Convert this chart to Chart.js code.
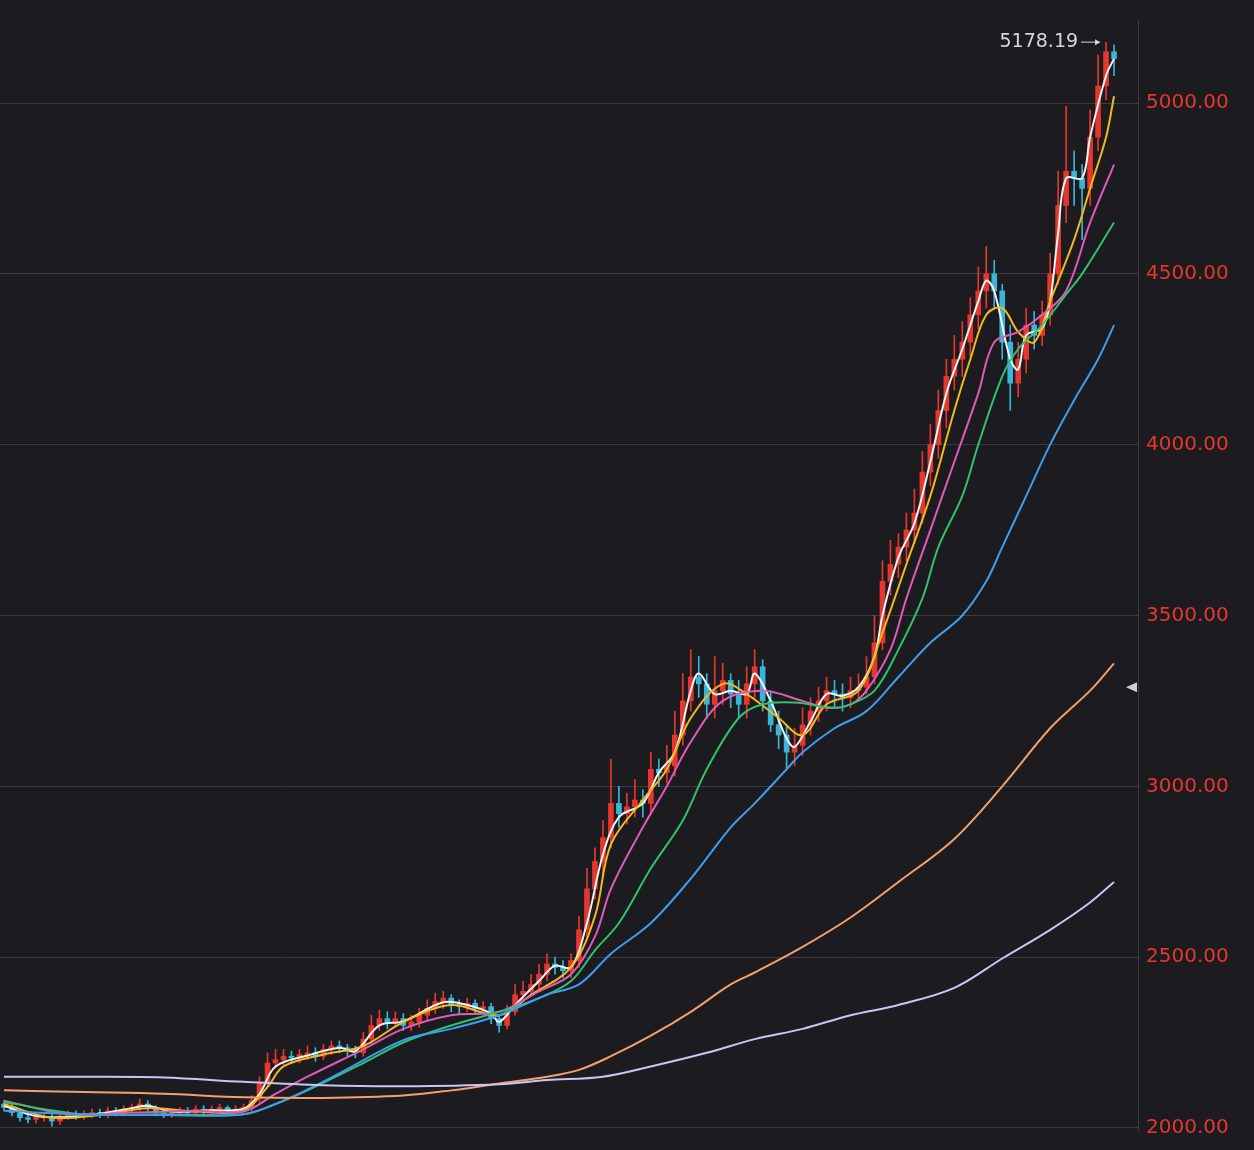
<!DOCTYPE html>
<html>
<head>
<meta charset="utf-8">
<script src="https://cdn.jsdelivr.net/npm/chart.js@4"></script>
<style>
  html, body { margin: 0; padding: 0; background: #1b1b20; }
  #wrap { width: 1254px; height: 1150px; }
</style>
</head>
<body>
<div id="wrap"><canvas id="c"></canvas></div>
<script>
// ── Data ──
const opens = [
  2070,2060,2045,2030,2025, 2030,2030,2020,2035,2040, 2035,2040,2045,2040,2050, 2045,2055,2060,2070,2060,
  2045,2040,2045,2050,2045, 2055,2050,2055,2060,2050, 2055,2060,2085,2130,2190, 2200,2210,2205,2215,2220,
  2210,2230,2240,2235,2225, 2220,2260,2300,2320,2310, 2320,2300,2310,2330,2350, 2370,2380,2360,2355,2365,
  2350,2355,2320,2300,2340, 2390,2400,2420,2450,2480, 2470,2460,2490,2580,2700, 2780,2850,2950,2920,2940,
  2960,2950,3050,3040,3060, 3150,3250,3320,3300,3240, 3280,3310,3270,3240,3300, 3350,3250,3180,3150,3100,
  3120,3180,3220,3250,3280, 3270,3260,3280,3290,3320, 3420,3600,3650,3700,3750, 3800,3920,4000,4100,4200,
  4250,4300,4380,4450,4500, 4450,4300,4180,4250,4350, 4320,4380,4500,4700,4800, 4780,4750,4900,5050,5150
];
const highs = [
  2080,2070,2055,2040,2040, 2045,2040,2045,2050,2050, 2050,2055,2055,2060,2060, 2065,2070,2085,2080,2065,
  2055,2055,2060,2060,2065, 2065,2065,2070,2065,2065, 2070,2095,2150,2220,2230, 2230,2225,2230,2240,2235,
  2245,2255,2255,2245,2240, 2280,2330,2345,2340,2340, 2335,2330,2350,2375,2395, 2400,2390,2375,2380,2375,
  2370,2365,2330,2360,2420, 2430,2450,2480,2510,2500, 2490,2510,2620,2760,2820, 2900,3080,3000,2980,3020,
  2990,3100,3080,3120,3220, 3330,3400,3380,3330,3380, 3360,3330,3310,3350,3400, 3370,3280,3220,3180,3170,
  3230,3260,3290,3320,3310, 3300,3320,3330,3380,3500, 3660,3720,3740,3800,3870, 3980,4060,4160,4250,4320,
  4360,4430,4520,4580,4540, 4470,4350,4300,4400,4390, 4420,4560,4800,4990,4860, 4820,4980,5140,5178.19,5170
];
const lows = [
  2050,2035,2020,2015,2015, 2020,2005,2010,2025,2025, 2025,2030,2030,2030,2035, 2035,2045,2050,2050,2035,
  2030,2030,2035,2035,2035, 2040,2040,2045,2040,2040, 2045,2050,2075,2120,2175, 2185,2190,2190,2200,2195,
  2200,2215,2220,2210,2205, 2210,2245,2285,2290,2295, 2285,2285,2295,2315,2335, 2350,2340,2335,2340,2335,
  2335,2305,2280,2290,2330, 2370,2385,2400,2430,2450, 2440,2440,2470,2560,2670, 2740,2820,2880,2890,2910,
  2910,2920,3000,3010,3030, 3120,3220,3260,3200,3200, 3240,3230,3200,3200,3260, 3220,3160,3110,3050,3060,
  3090,3150,3190,3220,3230, 3220,3230,3250,3270,3300, 3400,3560,3610,3660,3710, 3770,3880,3960,4050,4160,
  4200,4260,4340,4400,4400, 4250,4100,4140,4210,4280, 4290,4350,4470,4650,4700, 4600,4700,4860,5010,5080
];
const closes = [
  2060,2045,2030,2025,2030, 2030,2020,2035,2040,2035, 2040,2045,2040,2050,2045, 2055,2060,2070,2060,2045,
  2040,2045,2050,2045,2055, 2050,2055,2060,2050,2055, 2060,2080,2130,2190,2200, 2210,2205,2215,2220,2210,
  2230,2240,2235,2225,2220, 2260,2300,2320,2310,2320, 2300,2310,2330,2350,2370, 2380,2360,2355,2365,2350,
  2355,2320,2300,2340,2390, 2400,2420,2450,2480,2470, 2460,2490,2580,2700,2780, 2850,2950,2920,2940,2960,
  2950,3050,3040,3060,3150, 3250,3320,3300,3240,3280, 3310,3270,3240,3300,3350, 3250,3180,3150,3100,3120,
  3180,3220,3250,3280,3270, 3260,3280,3290,3320,3420, 3600,3650,3700,3750,3800, 3920,4000,4100,4200,4250,
  4300,4380,4450,4500,4450, 4300,4180,4250,4350,4320, 4380,4500,4700,4800,4780, 4750,4900,5050,5150,5130
];

// moving averages, [candle index, value]
const ma5 = [[0,2065],[4,2035],[8,2032],[12,2042],[16,2058],[18,2065],[21,2048],[26,2052],[30,2056],[32,2100],
  [34,2180],[38,2212],[42,2235],[44,2225],[47,2300],[50,2312],[55,2368],[58,2360],[61,2335],[62,2310],[64,2360],
  [67,2430],[69,2475],[71,2470],[73,2600],[75,2800],[77,2910],[80,2950],[82,3040],[84,3100],[86,3280],[87,3330],
  [89,3270],[91,3280],[93,3270],[94,3330],[96,3250],[98,3140],[99,3115],[101,3190],[103,3270],[105,3265],[107,3290],
  [109,3380],[110,3500],[112,3670],[114,3770],[116,3950],[118,4150],[120,4280],[122,4420],[123,4480],[124,4450],
  [126,4250],[127,4220],[128,4320],[130,4340],[131,4420],[132,4620],[133,4780],[135,4780],[136,4900],[138,5080],[139,5130]];
const ma10 = [[0,2070],[6,2030],[12,2038],[18,2058],[24,2048],[30,2052],[33,2120],[35,2180],[40,2215],[45,2240],
  [50,2310],[56,2360],[62,2330],[66,2390],[71,2470],[74,2620],[76,2830],[80,2960],[83,3050],[86,3200],[90,3300],
  [93,3270],[97,3200],[100,3150],[103,3240],[107,3280],[110,3450],[113,3650],[116,3850],[119,4100],[121,4250],
  [123,4380],[125,4400],[127,4330],[129,4300],[131,4420],[134,4600],[136,4750],[138,4900],[139,5020]];
const ma20 = [[0,2080],[8,2040],[16,2045],[24,2050],[30,2048],[34,2100],[38,2150],[45,2230],[50,2290],[56,2330],
  [62,2340],[67,2400],[71,2450],[74,2560],[76,2700],[80,2880],[83,3000],[86,3130],[90,3250],[95,3280],[100,3250],
  [103,3230],[106,3240],[108,3280],[111,3400],[113,3550],[116,3750],[119,3950],[122,4150],[124,4300],[127,4330],
  [130,4380],[133,4450],[136,4650],[139,4820]];
const ma30 = [[0,2075],[10,2040],[20,2040],[30,2040],[34,2070],[38,2110],[45,2190],[50,2250],[56,2300],[62,2340],
  [67,2380],[71,2430],[74,2520],[77,2600],[81,2760],[85,2900],[88,3050],[92,3200],[95,3240],[99,3245],[104,3230],
  [106,3240],[109,3280],[112,3400],[115,3550],[117,3700],[120,3850],[122,4000],[125,4200],[127,4280],[130,4350],
  [133,4440],[135,4500],[139,4650]];
const ma60 = [[0,2050],[10,2040],[20,2038],[30,2040],[35,2080],[42,2160],[50,2257],[56,2290],[62,2330],[68,2390],
  [72,2420],[76,2510],[81,2600],[86,2730],[91,2880],[94,2950],[98,3050],[100,3100],[104,3170],[108,3220],
  [112,3320],[116,3420],[120,3500],[123,3600],[125,3700],[128,3850],[131,4000],[134,4130],[137,4250],[139,4350]];
const ma120 = [[0,2110],[10,2105],[20,2100],[30,2090],[40,2088],[50,2095],[56,2110],[62,2130],[68,2150],
  [72,2170],[76,2210],[81,2270],[86,2340],[91,2420],[94,2455],[100,2530],[106,2616],[112,2720],[119,2846],
  [125,3000],[131,3170],[136,3280],[139,3360]];
const ma250 = [[0,2150],[10,2150],[20,2148],[30,2135],[40,2125],[50,2122],[62,2128],[68,2140],[75,2150],
  [81,2180],[88,2220],[94,2260],[100,2290],[106,2330],[112,2360],[119,2410],[125,2496],[131,2580],[136,2660],[139,2720]];

const yTicks = [2000, 2500, 3000, 3500, 4000, 4500, 5000];

const UP = '#e5372d', DOWN = '#3ab5d8';
const idx = closes.map((_, i) => i);
const candleColor = idx.map(i => closes[i] >= opens[i] ? UP : DOWN);
const pts = arr => arr.map(p => ({ x: p[0], y: p[1] }));

function maSet(data, color) {
  return { type: 'line', data: pts(data), borderColor: color, borderWidth: 2,
           pointRadius: 0, tension: 0.35, order: 0 };
}

// ── Overlay: last high label and right-side marker ──
const overlay = {
  id: 'overlay',
  afterDraw(chart) {
    const { ctx, scales: { x, y } } = chart;
    const hi = Math.max(...highs);
    const hiIdx = highs.indexOf(hi);
    const px = x.getPixelForValue(hiIdx), py = y.getPixelForValue(hi);
    ctx.save();
    ctx.font = '19px "DejaVu Sans", sans-serif';
    ctx.fillStyle = '#d8d8d8';
    ctx.textAlign = 'right';
    ctx.textBaseline = 'middle';
    ctx.fillText(hi.toFixed(2), px - 28, py);
    ctx.strokeStyle = '#d8d8d8'; ctx.lineWidth = 1;
    ctx.beginPath(); ctx.moveTo(px - 25, py); ctx.lineTo(px - 6, py); ctx.stroke();
    ctx.beginPath(); ctx.moveTo(px - 6, py); ctx.lineTo(px - 11, py - 3); ctx.lineTo(px - 11, py + 3); ctx.fill();
    // small marker on axis at current close
    const my = y.getPixelForValue(3290);
    ctx.fillStyle = '#cfcfcf';
    ctx.beginPath(); ctx.moveTo(1126, my); ctx.lineTo(1137, my - 5); ctx.lineTo(1137, my + 5); ctx.fill();
    ctx.restore();
  }
};

new Chart(document.getElementById('c'), {
  data: {
    datasets: [
      { type: 'bar', data: idx.map(i => ({ x: i, y: [lows[i], highs[i]] })),
        backgroundColor: candleColor, barThickness: 1, grouped: false, order: 2 },
      { type: 'bar', data: idx.map(i => ({ x: i, y: [opens[i], closes[i] === opens[i] ? opens[i] + 2 : closes[i]] })),
        backgroundColor: candleColor, barThickness: 5, grouped: false, order: 1 },
      maSet(ma250, '#c9c6f5'),
      maSet(ma120, '#f5a06a'),
      maSet(ma60, '#3d9df0'),
      maSet(ma30, '#2fc26b'),
      maSet(ma20, '#e05ab8'),
      maSet(ma10, '#f2b91c'),
      maSet(ma5, '#f2f2f2'),
    ]
  },
  options: {
    responsive: true, maintainAspectRatio: false, animation: false,
    layout: { padding: 0 },
    plugins: { legend: { display: false }, tooltip: { enabled: false } },
    scales: {
      x: { type: 'linear', min: -0.5, max: 142, offset: false, display: false },
      y: {
        position: 'right', min: 1994, max: 5243,
        afterBuildTicks: s => { s.ticks = yTicks.map(v => ({ value: v })); },
        afterFit: s => { s.width = 116; },
        grid: { color: '#3a3a40', lineWidth: 1, drawTicks: false },
        border: { color: '#3a3a40' },
        ticks: { color: '#e5372d', padding: 8, font: { size: 20, family: '"DejaVu Sans", sans-serif' },
                 callback: v => v.toFixed(2) }
      }
    }
  },
  plugins: [overlay]
});
</script>
</body>
</html>
